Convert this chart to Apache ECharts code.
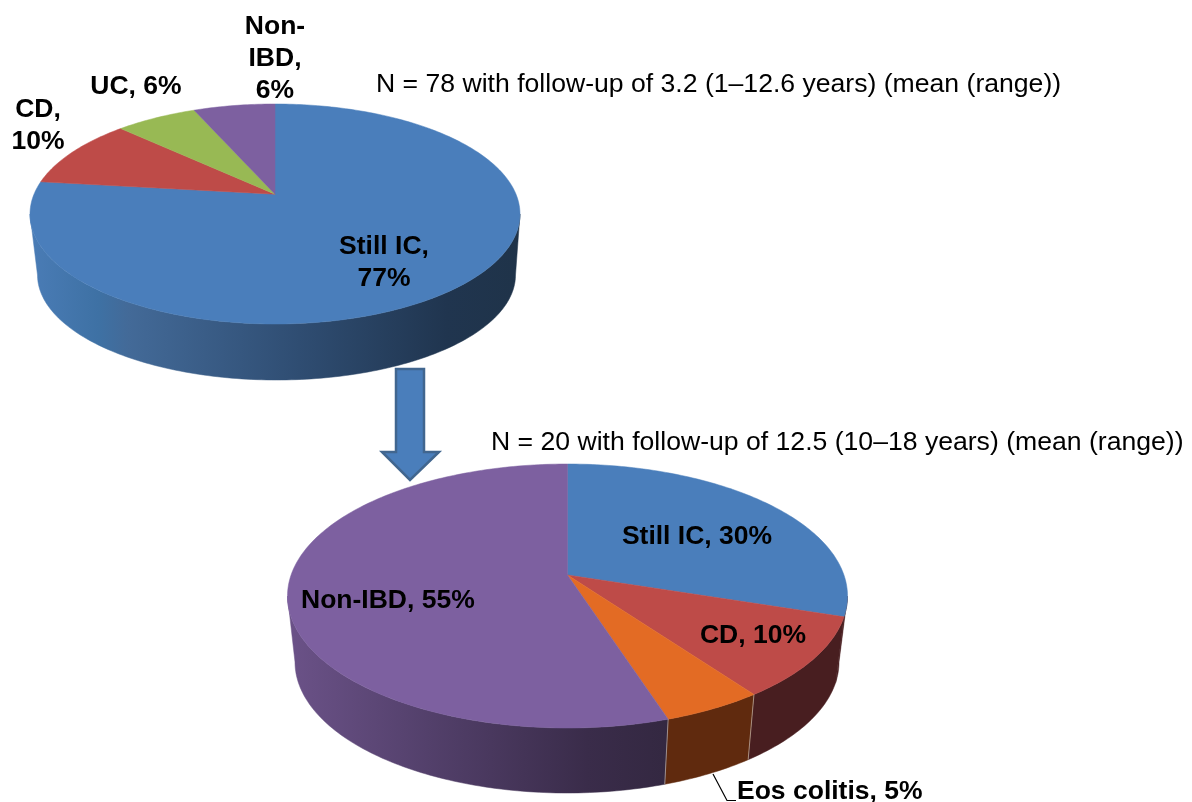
<!DOCTYPE html>
<html>
<head>
<meta charset="utf-8">
<style>html,body{margin:0;padding:0;background:#fff}#c{width:1192px;height:802px}</style>
<script src="https://cdn.jsdelivr.net/npm/echarts@6/dist/echarts.min.js"></script>
</head>
<body>
<div id="c"></div>
<script>
// ---- data ----
var topCategories = ['Still IC', 'CD', 'UC', 'Non-IBD'];
var topValues = [76.9, 10.3, 6.4, 6.4];
var bottomCategories = ['Still IC', 'CD', 'Eos colitis', 'Non-IBD'];
var bottomValues = [30, 10, 5, 55];
var topNote = 'N = 78 with follow-up of 3.2 (1–12.6 years) (mean (range))';
var bottomNote = 'N = 20 with follow-up of 12.5 (10–18 years) (mean (range))';

// ---- styling ----
var BLUE = '#4a7ebb', RED = '#be4b48', GREEN = '#98b954', PURPLE = '#7d60a0', ORANGE = '#e36b24';
var topColors = [BLUE, RED, GREEN, PURPLE];
var bottomColors = [BLUE, RED, ORANGE, PURPLE];
var topWalls = [
  [[0, '#4a7cb6'], [0.14, '#3e71a4'], [0.2, '#436a98'], [0.55, '#2f4d72'], [0.85, '#20354f'], [1, '#1f3349']],
  ['#5c2a28'], ['#55682f'], ['#463559']
];
var bottomWalls = [
  ['#481e20'],
  ['#481e20'],
  ['#602a0e'],
  [[0, '#6b5288'], [0.35, '#53406b'], [0.75, '#3a2c4a'], [1, '#32273f']]
];
var FONT = '"Liberation Sans", Arial, sans-serif';

function persp(g, rim, deg) {
  var t = deg * Math.PI / 180, x = Math.sin(t), y = -Math.cos(t), d = 1 + g.c * y;
  return [
    rim.cx + rim.rx * Math.sqrt(1 - g.c * g.c) * x / d,
    rim.cy + rim.ry * (y + g.c) / d
  ];
}
function arc(g, rim, a, b) {
  var pts = [], n = Math.max(2, Math.ceil(Math.abs(b - a))), i;
  for (i = 0; i <= n; i++) pts.push(persp(g, rim, a + (b - a) * i / n));
  return pts;
}
function makeSeries(values, names, colors, walls, g) {
  var sum = values.reduce(function (s, v) { return s + v; }, 0), run = 0;
  var data = values.map(function (v, i) {
    var start = run; run += v;
    return { name: names[i], value: [i, start / sum * 360, run / sum * 360, v] };
  });
  var frontA = Math.acos(g.c) * 180 / Math.PI, frontB = 360 - frontA;
  return {
    type: 'custom',
    coordinateSystem: 'none',
    silent: true,
    data: data,
    renderItem: function (params, api) {
      var i = api.value(0), a = api.value(1), b = api.value(2), kids = [];
      var wa = Math.max(a, frontA), wb = Math.min(b, frontB);
      if (wb > wa) {
        var up = arc(g, g.upper, wa, wb), low = arc(g, g.lower, wa, wb).reverse();
        var w = walls[i], fill;
        if (w.length === 1) fill = w[0];
        else fill = {
          type: 'linear', global: true,
          x: g.upper.cx - g.upper.rx, y: 0, x2: g.gradEnd, y2: 0,
          colorStops: w.map(function (s) { return { offset: s[0], color: s[1] }; })
        };
        kids.push({ type: 'polygon', z2: 1, shape: { points: up.concat(low) },
          style: { fill: fill, stroke: fill, lineWidth: 0.5 } });
        var sameAsPrev = walls[i - 1] && walls[i - 1].length === 1 && walls[i - 1][0] === w[0];
        if (a >= frontA && a <= frontB && !sameAsPrev) {
          kids.push({ type: 'line', z2: 3, shape: {
            x1: up[0][0], y1: up[0][1], x2: low[low.length - 1][0], y2: low[low.length - 1][1] },
            style: { stroke: 'rgba(205,190,180,0.65)', lineWidth: 1 } });
        }
      }
      var centre = [g.upper.cx, g.upper.cy + g.upper.ry * g.c];
      kids.push({ type: 'polygon', z2: 2, shape: { points: [centre].concat(arc(g, g.upper, a, b)) },
        style: { fill: colors[i], stroke: colors[i], lineWidth: 0.5 } });
      return { type: 'group', children: kids };
    }
  };
}

var topPie = { c: -0.18, gradEnd: 520,
  upper: { cx: 275, cy: 214, rx: 245, ry: 110 },
  lower: { cx: 276.5, cy: 275, rx: 239, ry: 105 } };
var bottomPie = { c: -0.159, gradEnd: 687,
  upper: { cx: 567.5, cy: 596, rx: 280, ry: 132 },
  lower: { cx: 567, cy: 662, rx: 272, ry: 131 } };

function label(text, x, y, align, bold) {
  return { type: 'text', x: x, y: y, z: 20, silent: true, style: {
    text: text, x: 0, y: 0, fill: '#000', align: align, verticalAlign: 'middle',
    font: (bold ? 'bold ' : '') + (bold ? '26.5px ' : '26.6px ') + FONT, lineHeight: 32 } };
}
function pct(names, values, i, sep) {
  return names[i] + ',' + sep + Math.round(values[i]) + '%';
}

var chart = echarts.init(document.getElementById('c'), null, { renderer: 'canvas', width: 1192, height: 802 });
chart.setOption({
  animation: false,
  backgroundColor: '#fff',
  series: [
    makeSeries(topValues, topCategories, topColors, topWalls, topPie),
    makeSeries(bottomValues, bottomCategories, bottomColors, bottomWalls, bottomPie)
  ],
  graphic: { elements: [
    label(topNote, 376, 85, 'left', false),
    label(bottomNote, 491, 443, 'left', false),
    label('Non-\nIBD,\n6%', 275, 59, 'center', true),
    label(pct(topCategories, topValues, 2, ' '), 136, 87, 'center', true),
    label(pct(topCategories, topValues, 1, '\n'), 38, 126, 'center', true),
    label(pct(topCategories, topValues, 0, '\n'), 384, 263, 'center', true),
    label(pct(bottomCategories, bottomValues, 0, ' '), 697, 537, 'center', true),
    label(pct(bottomCategories, bottomValues, 1, ' '), 753, 636, 'center', true),
    label(pct(bottomCategories, bottomValues, 3, ' '), 301, 601, 'left', true),
    label(pct(bottomCategories, bottomValues, 2, ' '), 737, 792, 'left', true),
    { type: 'polyline', z: 10, silent: true,
      shape: { points: [[713, 774], [727, 800.5], [736, 800.5]] },
      style: { stroke: '#000', lineWidth: 1.2, fill: null } },
    { type: 'polygon', z: 10, silent: true,
      shape: { points: [[396, 369], [424, 369], [424, 452], [439, 452], [410, 480], [382, 452], [396, 452]] },
      style: { fill: BLUE, stroke: '#41668f', lineWidth: 2.5 } }
  ] }
});
</script>
</body>
</html>
